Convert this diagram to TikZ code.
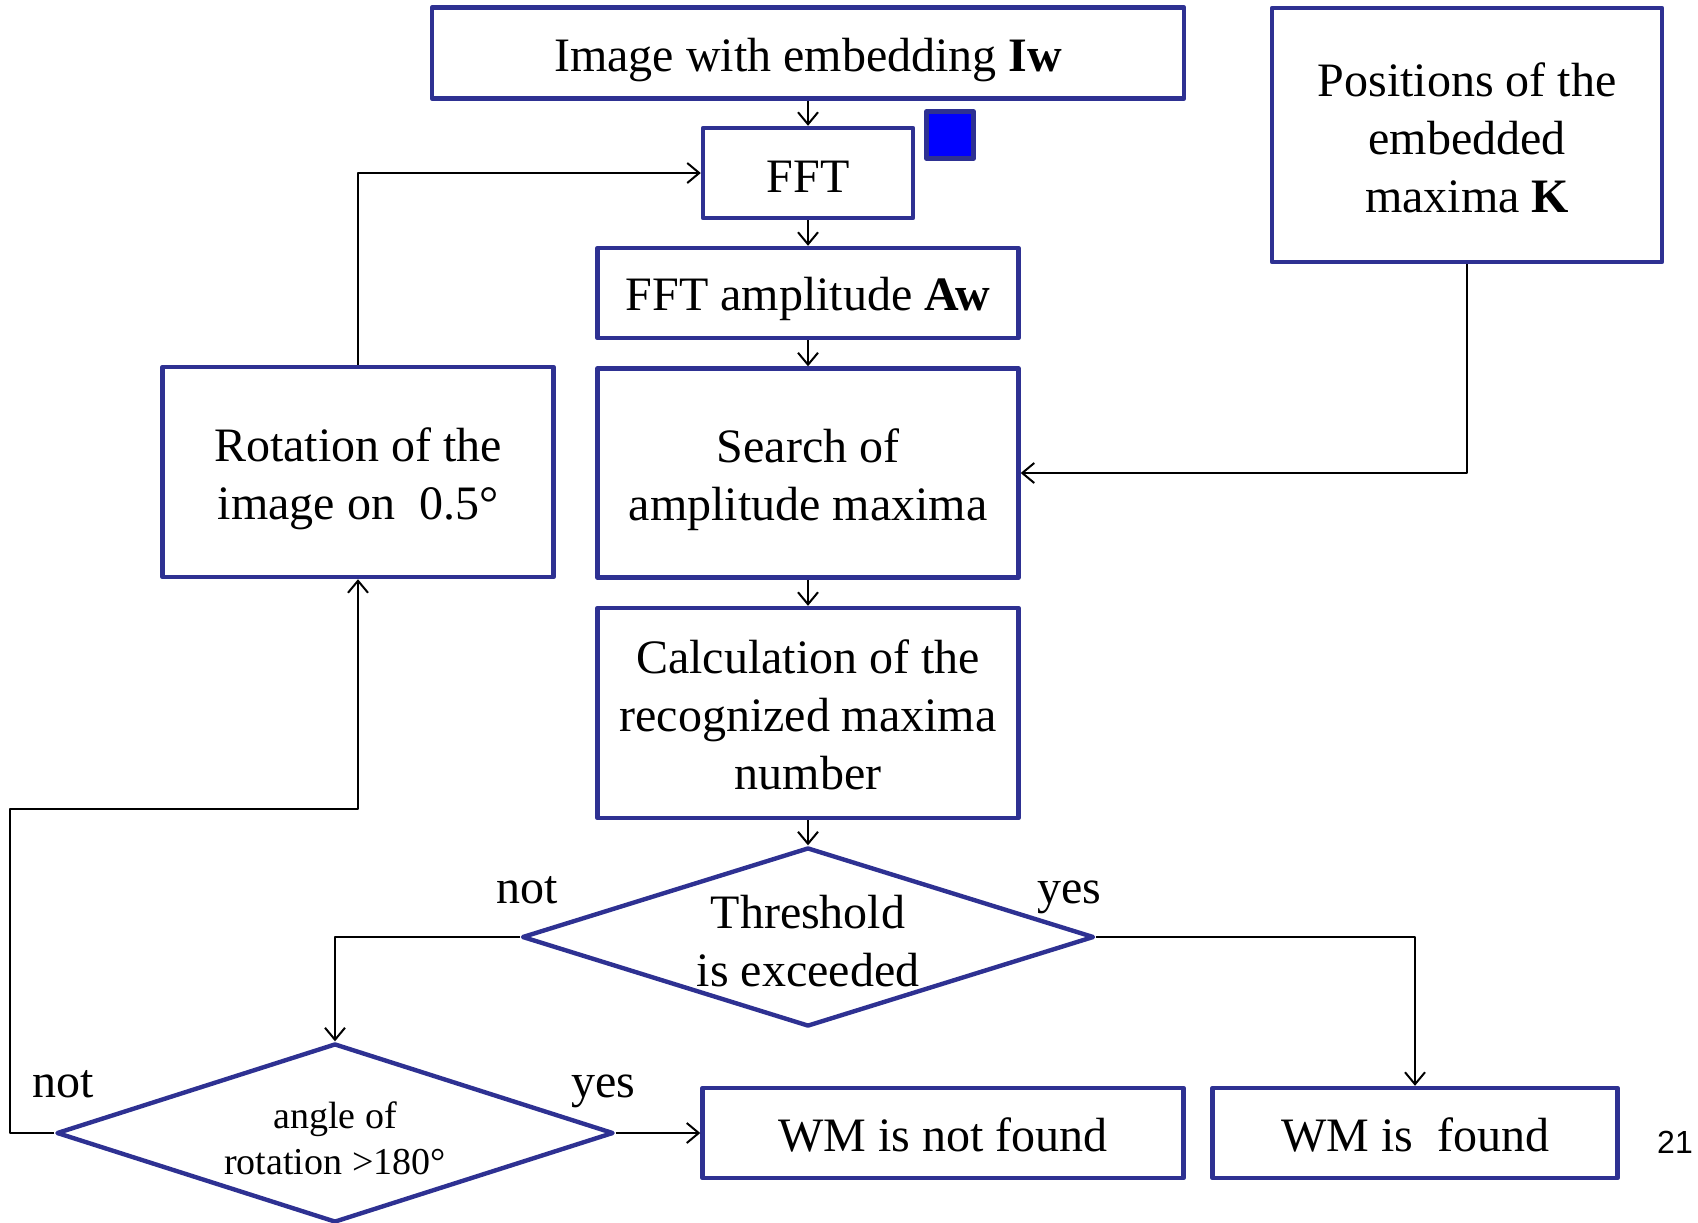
\documentclass[tikz,border=0pt]{standalone}
\usepackage{fontspec}
\setmainfont{Liberation Serif}
\newfontfamily\pagefont{Liberation Sans}
\usetikzlibrary{shapes.geometric,arrows.meta}
\definecolor{boxblue}{RGB}{46,49,146}
\newcommand\lift[1]{\rule{0pt}{#1}}
\begin{document}
\begin{tikzpicture}[x=0.5pt,y=-0.5pt,>={Straight Barb[length=6pt,width=10pt]},line join=round,
        font=\fontsize{24}{29}\selectfont,
        blk/.style={draw=boxblue,line width=2.2pt,align=center,inner sep=0pt},
        dia/.style={diamond,draw=boxblue,line width=2.2pt,align=center,inner sep=0pt,aspect=3.2},
        conn/.style={->,line width=1pt}]
            \useasboundingbox (0,0) rectangle (1698,1222);
            % main column
            \node[blk,minimum width=376pt,minimum height=45.5pt] (img) at (808,53) {\lift{24pt}Image with embedding \textbf{Iw}};
            \node[blk,minimum width=105pt,minimum height=45pt] (fft) at (808,173) {\lift{19pt}FFT};
            \node[blk,minimum width=23.5pt,minimum height=23.5pt,fill=blue] (sq) at (950,135) {};
            \node[blk,minimum width=210.5pt,minimum height=45pt] (amp) at (808,293) {\lift{23pt}FFT amplitude \textbf{Aw}};
            \node[blk,minimum width=210.5pt,minimum height=104.5pt] (search) at (808,473) {\lift{24pt}Search of\\amplitude maxima};
            \node[blk,minimum width=210.5pt,minimum height=105pt] (calc) at (808,713) {\lift{18.6pt}Calculation of the\\recognized maxima\\number};
            \node[dia,minimum width=286pt,minimum height=89.5pt] (thr) at (808,937) {\lift{20.7pt}Threshold\\is exceeded};
            % side boxes
            \node[blk,minimum width=195pt,minimum height=127pt] (pos) at (1467,135) {\lift{19.5pt}Positions of the\\embedded\\maxima \textbf{K}};
            \node[blk,minimum width=195.5pt,minimum height=105pt] (rot) at (358,472) {\lift{24pt}Rotation of the\\image on~ 0.5°};
            \node[dia,minimum width=278.5pt,minimum height=89.5pt,font=\fontsize{19}{23}\selectfont] (ang) at (335,1133) {\lift{18.4pt}angle of\\rotation >180°};
            \node[blk,minimum width=240.5pt,minimum height=45pt] (nf) at (943,1133) {\lift{18.6pt}WM is not found};
            \node[blk,minimum width=202.5pt,minimum height=45pt] (fd) at (1415,1133) {\lift{18.6pt}WM is~ found};
            \node[font=\pagefont\fontsize{16}{19}\selectfont] (pagenum) at (1675,1142) {21};
            % labels
            \node[anchor=base] (not1) at (527,903) {not};
            \node[anchor=base] (yes1) at (1069,903) {yes};
            \node[anchor=base] (not2) at (63,1097) {not};
            \node[anchor=base] (yes2) at (603,1097) {yes};
            \coordinate (lp) at (10,809);
            % connectors
            \draw[conn] (img) -- (fft);
            \draw[conn] (fft) -- (amp);
            \draw[conn] (amp) -- (search);
            \draw[conn] (search) -- (calc);
            \draw[conn] (calc) -- (thr);
            \draw[conn] (pos.south) |- (search.east);
            \draw[conn] (thr.east) -| (fd.north);
            \draw[conn] (thr.west) -| (ang.north);
            \draw[conn] (ang.east) -- (nf.west);
            \draw[conn] (ang.west) -| (lp) -| (rot.south);
            \draw[conn] (rot.north) |- (fft.west);
        \end{tikzpicture}
\end{document}
